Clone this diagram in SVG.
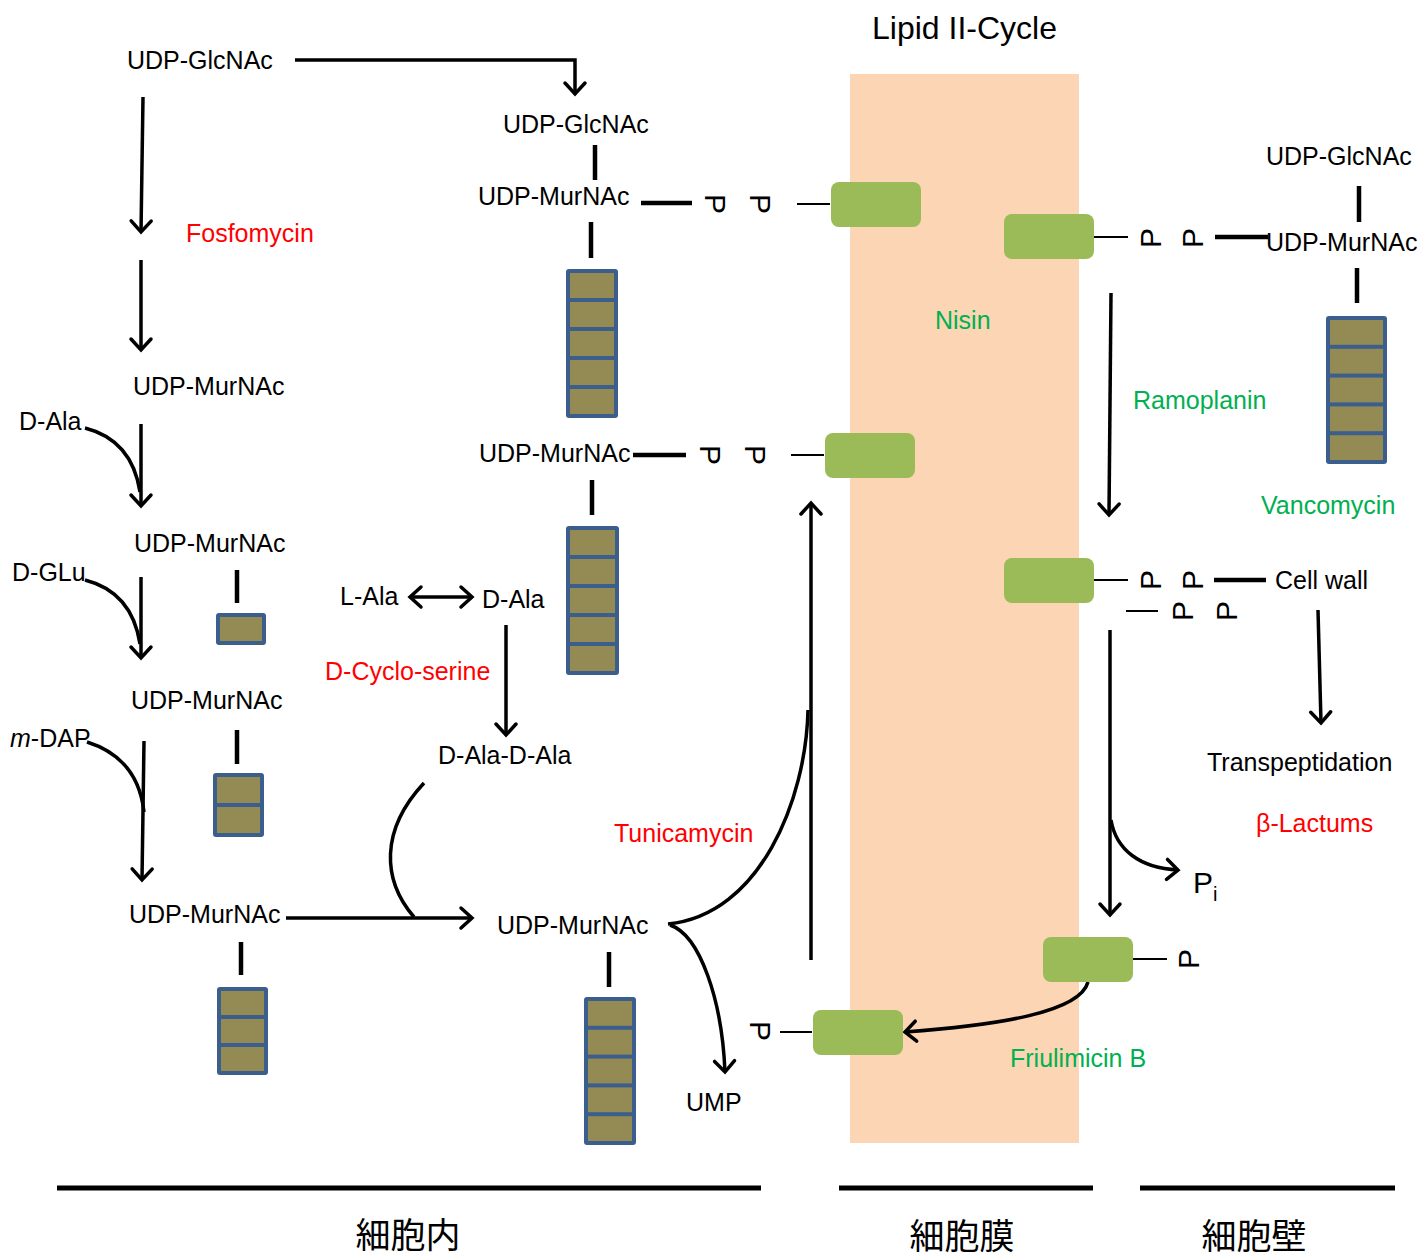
<svg xmlns="http://www.w3.org/2000/svg" width="1421" height="1260" viewBox="0 0 1421 1260">
<style>
text{font-family:"Liberation Sans",Arial,sans-serif;font-size:25px;fill:#000}
.red{fill:#FF0000}
.grn{fill:#00B050}
.p{font-size:30px;text-anchor:middle;dominant-baseline:central}
.cjk{font-family:"Noto Sans CJK JP","Noto Sans CJK SC",sans-serif;font-size:35px;text-anchor:middle}
.ln{stroke:#000;stroke-width:3.5;fill:none}
.thin{stroke:#000;stroke-width:2;fill:none}
.bar{stroke:#000;stroke-width:4.5;fill:none}
.arr{stroke:#000;stroke-width:3.5;fill:none;marker-end:url(#ah)}
.gb{fill:#9BBB59}
.so{fill:#3B5E8C}
.si{fill:#948A54}
</style>
<defs>
<marker id="ah" markerUnits="userSpaceOnUse" markerWidth="30" markerHeight="30" viewBox="-15 -15 30 30" refX="0" refY="0" orient="auto">
<path d="M-11,-10 L0,0 L-11,10" stroke="#000" stroke-width="3.5" fill="none" stroke-linecap="round"/>
</marker>
<marker id="ahs" markerUnits="userSpaceOnUse" markerWidth="30" markerHeight="30" viewBox="-15 -15 30 30" refX="0" refY="0" orient="auto-start-reverse">
<path d="M-11,-10 L0,0 L-11,10" stroke="#000" stroke-width="3.5" fill="none" stroke-linecap="round"/>
</marker>
</defs>
<rect width="1421" height="1260" fill="#fff"/>
<rect id="membrane" x="850" y="74" width="229" height="1069" fill="#FCD5B4"/>
<text x="872" y="39" style="font-size:32px">Lipid II-Cycle</text>

<g id="bottom-lines" class="bar" style="stroke-width:5">
<line x1="57" y1="1188" x2="761" y2="1188"/>
<line x1="839" y1="1188" x2="1093" y2="1188"/>
<line x1="1140" y1="1188" x2="1395" y2="1188"/>
</g>
<text class="cjk" x="408" y="1248">細胞内</text>
<text class="cjk" x="962" y="1249">細胞膜</text>
<text class="cjk" x="1254" y="1249">細胞壁</text>

<g id="connectors">
<path class="arr" d="M295,60 H575 V94"/>
<path class="arr" d="M143,97 L141,232"/>
<path class="arr" d="M141,260 L141,350"/>
<path class="arr" d="M141,424 L141,506"/>
<path class="ln" d="M85,428 Q132,440 140,492"/>
<path class="arr" d="M141,577 L141,658"/>
<path class="ln" d="M85,580 Q132,592 140,644"/>
<path class="arr" d="M144,741 L142,880"/>
<path class="ln" d="M87,742 Q138,758 144,812"/>
<path class="arr" d="M286,918 L472,918"/>
<path class="ln" d="M424,783 C380,830 382,880 414,917"/>
<path class="arr" style="marker-start:url(#ahs)" d="M410,597 L472,597"/>
<path class="arr" d="M506,625 L506,735"/>
<path class="ln" d="M668,924 C760,915 806,800 808,710"/>
<path class="arr" d="M670,925 C700,935 722,1000 725,1072"/>
<path class="arr" d="M811,960 L811,503"/>
<path class="arr" d="M1088,982 C1080,1012 1000,1025 905,1032"/>
<path class="arr" d="M1111,293 L1109,515"/>
<path class="arr" d="M1318,610 L1321,723"/>
<path class="arr" d="M1110,630 L1110,915"/>
<path class="arr" d="M1111,820 C1116,850 1140,868 1178,870"/>
<!-- bars -->
<line class="bar" x1="595" y1="145" x2="595" y2="180"/>
<line class="bar" x1="591" y1="222" x2="591" y2="258"/>
<line class="bar" x1="592" y1="480" x2="592" y2="515"/>
<line class="bar" x1="237" y1="570" x2="237" y2="603"/>
<line class="bar" x1="237" y1="730" x2="237" y2="764"/>
<line class="bar" x1="241" y1="942" x2="241" y2="975"/>
<line class="bar" x1="609" y1="952" x2="609" y2="987"/>
<line class="bar" x1="1359" y1="186" x2="1359" y2="222"/>
<line class="bar" x1="1357" y1="268" x2="1357" y2="303"/>
<!-- phosphate links -->
<line class="bar" x1="641" y1="203" x2="692" y2="203"/>
<line class="thin" x1="797" y1="204" x2="830" y2="204"/>
<line class="bar" x1="633" y1="455" x2="686" y2="455"/>
<line class="thin" x1="791" y1="455" x2="824" y2="455"/>
<line class="thin" x1="1094" y1="237" x2="1128" y2="237"/>
<line class="bar" x1="1215" y1="237" x2="1268" y2="237"/>
<line class="thin" x1="1094" y1="580" x2="1128" y2="580"/>
<line class="bar" x1="1214" y1="580" x2="1266" y2="580"/>
<line class="thin" x1="1126" y1="611" x2="1158" y2="611"/>
<line class="thin" x1="1133" y1="959" x2="1167" y2="959"/>
<line class="thin" x1="780" y1="1032" x2="812" y2="1032"/>
</g>

<g id="P-groups">
<text class="p" transform="translate(715,204) rotate(90)">P</text>
<text class="p" transform="translate(760,204) rotate(90)">P</text>
<text class="p" transform="translate(710,455) rotate(90)">P</text>
<text class="p" transform="translate(755,455) rotate(90)">P</text>
<text class="p" transform="translate(1150,238) rotate(-90)">P</text>
<text class="p" transform="translate(1192,238) rotate(-90)">P</text>
<text class="p" transform="translate(1150,580) rotate(-90)">P</text>
<text class="p" transform="translate(1192,580) rotate(-90)">P</text>
<text class="p" transform="translate(1182,611) rotate(-90)">P</text>
<text class="p" transform="translate(1226,611) rotate(-90)">P</text>
<text class="p" transform="translate(1188,959) rotate(-90)">P</text>
<text class="p" transform="translate(760,1031) rotate(90)">P</text>
</g>

<g id="green-boxes">
<rect class="gb" x="831" y="182" width="90" height="45" rx="8"/>
<rect class="gb" x="825" y="433" width="90" height="45" rx="8"/>
<rect class="gb" x="1004" y="214" width="90" height="45" rx="8"/>
<rect class="gb" x="1004" y="558" width="90" height="45" rx="8"/>
<rect class="gb" x="1043" y="937" width="90" height="45" rx="8"/>
<rect class="gb" x="813" y="1010" width="90" height="45" rx="8"/>
</g>

<g id="stacks">
<g id="stackA"><rect class="so" x="216" y="613" width="50" height="32" rx="3"/><rect class="si" x="220" y="617" width="42" height="24"/></g>
<g id="stackB"><rect class="so" x="213" y="773" width="51" height="64" rx="3"/><rect class="si" x="217" y="777" width="43" height="26"/><rect class="si" x="217" y="807" width="43" height="26"/></g>
<g id="stackC"><rect class="so" x="217" y="987" width="51" height="88" rx="3"/><rect class="si" x="221" y="991" width="43" height="24"/><rect class="si" x="221" y="1019" width="43" height="24"/><rect class="si" x="221" y="1047" width="43" height="24"/></g>
<g id="stackD"><rect class="so" x="566" y="269" width="52" height="149" rx="3"/><rect class="si" x="570" y="273" width="44" height="25"/><rect class="si" x="570" y="302" width="44" height="25"/><rect class="si" x="570" y="331" width="44" height="25"/><rect class="si" x="570" y="360" width="44" height="25"/><rect class="si" x="570" y="389" width="44" height="25"/></g>
<g id="stackE"><rect class="so" x="566" y="526" width="53" height="149" rx="3"/><rect class="si" x="570" y="530" width="45" height="25"/><rect class="si" x="570" y="559" width="45" height="25"/><rect class="si" x="570" y="588" width="45" height="25"/><rect class="si" x="570" y="617" width="45" height="25"/><rect class="si" x="570" y="646" width="45" height="25"/></g>
<g id="stackF"><rect class="so" x="584" y="997" width="52" height="148" rx="3"/><rect class="si" x="588" y="1001" width="44" height="24.8"/><rect class="si" x="588" y="1029.8" width="44" height="24.8"/><rect class="si" x="588" y="1058.6" width="44" height="24.8"/><rect class="si" x="588" y="1087.4" width="44" height="24.8"/><rect class="si" x="588" y="1116.2" width="44" height="24.8"/></g>
<g id="stackG"><rect class="so" x="1326" y="316" width="61" height="148" rx="3"/><rect class="si" x="1330" y="320" width="53" height="24.8"/><rect class="si" x="1330" y="348.8" width="53" height="24.8"/><rect class="si" x="1330" y="377.6" width="53" height="24.8"/><rect class="si" x="1330" y="406.4" width="53" height="24.8"/><rect class="si" x="1330" y="435.2" width="53" height="24.8"/></g>
</g>

<g id="labels">
<text x="127" y="69">UDP-GlcNAc</text>
<text class="red" x="186" y="242">Fosfomycin</text>
<text x="133" y="395">UDP-MurNAc</text>
<text x="19" y="430">D-Ala</text>
<text x="134" y="552">UDP-MurNAc</text>
<text x="12" y="581">D-GLu</text>
<text x="131" y="709">UDP-MurNAc</text>
<text x="10" y="747"><tspan font-style="italic">m</tspan>-DAP</text>
<text x="129" y="923">UDP-MurNAc</text>
<text x="503" y="133">UDP-GlcNAc</text>
<text x="478" y="205">UDP-MurNAc</text>
<text x="479" y="462">UDP-MurNAc</text>
<text x="340" y="605">L-Ala</text>
<text x="482" y="608">D-Ala</text>
<text class="red" x="325" y="680">D-Cyclo-serine</text>
<text x="438" y="764">D-Ala-D-Ala</text>
<text class="red" x="614" y="842">Tunicamycin</text>
<text x="497" y="934">UDP-MurNAc</text>
<text x="686" y="1111">UMP</text>
<text class="grn" x="935" y="329">Nisin</text>
<text x="1266" y="165">UDP-GlcNAc</text>
<text x="1266" y="251">UDP-MurNAc</text>
<text class="grn" x="1133" y="409">Ramoplanin</text>
<text class="grn" x="1261" y="514">Vancomycin</text>
<text x="1275" y="589">Cell wall</text>
<text x="1207" y="771">Transpeptidation</text>
<text class="red" x="1256" y="832">β-Lactums</text>
<text x="1193" y="893" style="font-size:30px">P<tspan style="font-size:20px" dy="8">i</tspan></text>
<text class="grn" x="1010" y="1067">Friulimicin B</text>
</g>
</svg>
